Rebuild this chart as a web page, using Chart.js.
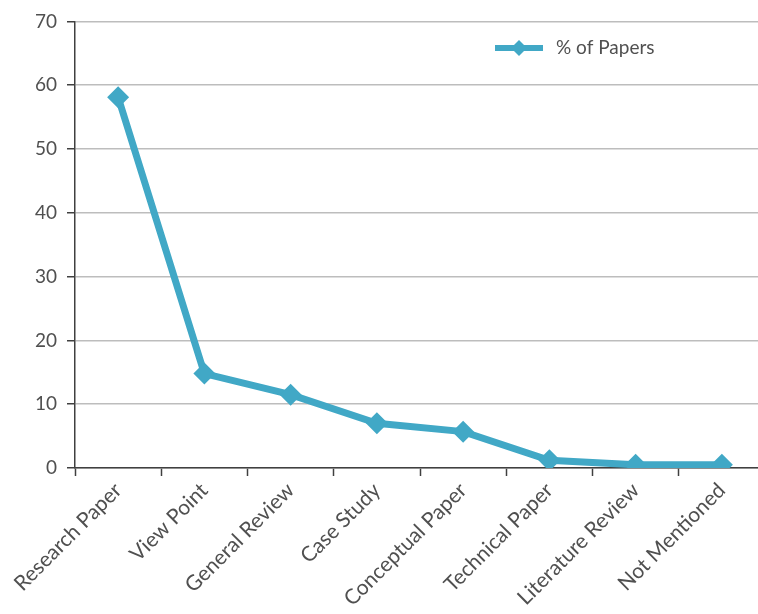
<!DOCTYPE html>
<html>
<head>
<meta charset="utf-8">
<script src="https://cdn.jsdelivr.net/npm/chart.js@4"></script>
<style>
  html, body { margin: 0; padding: 0; background: #ffffff; }
  #wrap { width: 758px; height: 614px; overflow: hidden; }
</style>
</head>
<body>
<div id="wrap"><canvas id="chart" width="776" height="614"></canvas></div>
<script>
// Paper types and the share of papers in each
const categories = [
  'Research Paper', 'View Point', 'General Review', 'Case Study',
  'Conceptual Paper', 'Technical Paper', 'Literature Review', 'Not Mentioned'
];
const percentOfPapers = [58.1, 14.8, 11.5, 7.0, 5.7, 1.2, 0.5, 0.5];
const seriesName = '% of Papers';
const yTicks = [0, 10, 20, 30, 40, 50, 60, 70];

const LINE_COLOR = '#41A8C6';
const TEXT_COLOR = '#505050';
const FONT_FAMILY = 'Lato, "Open Sans", "DejaVu Sans", sans-serif';

// Series key drawn inside the plot: a short line with a diamond, then the name
const seriesKey = {
  id: 'seriesKey',
  afterDraw(chart, args, opts) {
    const ds = chart.data.datasets[0];
    const ctx = chart.ctx;
    const x0 = opts.x, y = opts.y;
    ctx.save();
    ctx.strokeStyle = ds.borderColor;
    ctx.lineWidth = 6;
    ctx.beginPath();
    ctx.moveTo(x0, y);
    ctx.lineTo(x0 + 48, y);
    ctx.stroke();
    const cx = x0 + 24, r = 8;
    ctx.fillStyle = ds.pointBackgroundColor;
    ctx.beginPath();
    ctx.moveTo(cx - r, y);
    ctx.lineTo(cx, y - r);
    ctx.lineTo(cx + r, y);
    ctx.lineTo(cx, y + r);
    ctx.closePath();
    ctx.fill();
    ctx.fillStyle = TEXT_COLOR;
    ctx.font = '19px ' + FONT_FAMILY;
    ctx.textBaseline = 'middle';
    ctx.textAlign = 'left';
    ctx.fillText(ds.label, x0 + 61, y);
    ctx.restore();
  }
};

new Chart(document.getElementById('chart'), {
  type: 'line',
  data: {
    labels: categories,
    datasets: [{
      label: seriesName,
      data: percentOfPapers,
      borderColor: LINE_COLOR,
      backgroundColor: LINE_COLOR,
      pointBackgroundColor: LINE_COLOR,
      pointBorderColor: LINE_COLOR,
      borderWidth: 7,
      pointStyle: 'rectRot',
      pointRadius: 11,
      pointBorderWidth: 0,
      tension: 0,
      fill: false
    }]
  },
  options: {
    responsive: false,
    animation: false,
    devicePixelRatio: 1,
    layout: { padding: { top: 14, left: 0, right: 0, bottom: 0 } },
    plugins: {
      legend: { display: false },
      tooltip: { enabled: false },
      seriesKey: { x: 495, y: 48 }
    },
    scales: {
      x: {
        type: 'category',
        offset: true,
        afterFit(scale) {
          scale.height = 146;
          scale.paddingLeft = 0;
          scale.paddingRight = 0;
        },
        grid: {
          offset: true,
          drawOnChartArea: false,
          drawTicks: true,
          tickLength: 8,
          tickColor: '#404040',
          tickWidth: 1.5
        },
        border: { color: '#404040', width: 1.5 },
        ticks: {
          autoSkip: false,
          minRotation: 45,
          maxRotation: 45,
          padding: 2,
          color: TEXT_COLOR,
          font: { family: FONT_FAMILY, size: 21 }
        }
      },
      y: {
        min: 0,
        max: 70,
        afterFit(scale) { scale.width = 75; },
        afterBuildTicks(scale) { scale.ticks = yTicks.map(v => ({ value: v })); },
        grid: {
          color: '#BDBDBD',
          lineWidth: 1.5,
          drawTicks: true,
          tickLength: 8,
          tickColor: '#404040',
          tickWidth: 1.5
        },
        border: { color: '#404040', width: 1.5 },
        ticks: {
          padding: 10,
          color: TEXT_COLOR,
          font: { family: FONT_FAMILY, size: 19 }
        }
      }
    }
  },
  plugins: [seriesKey]
});
</script>
</body>
</html>
